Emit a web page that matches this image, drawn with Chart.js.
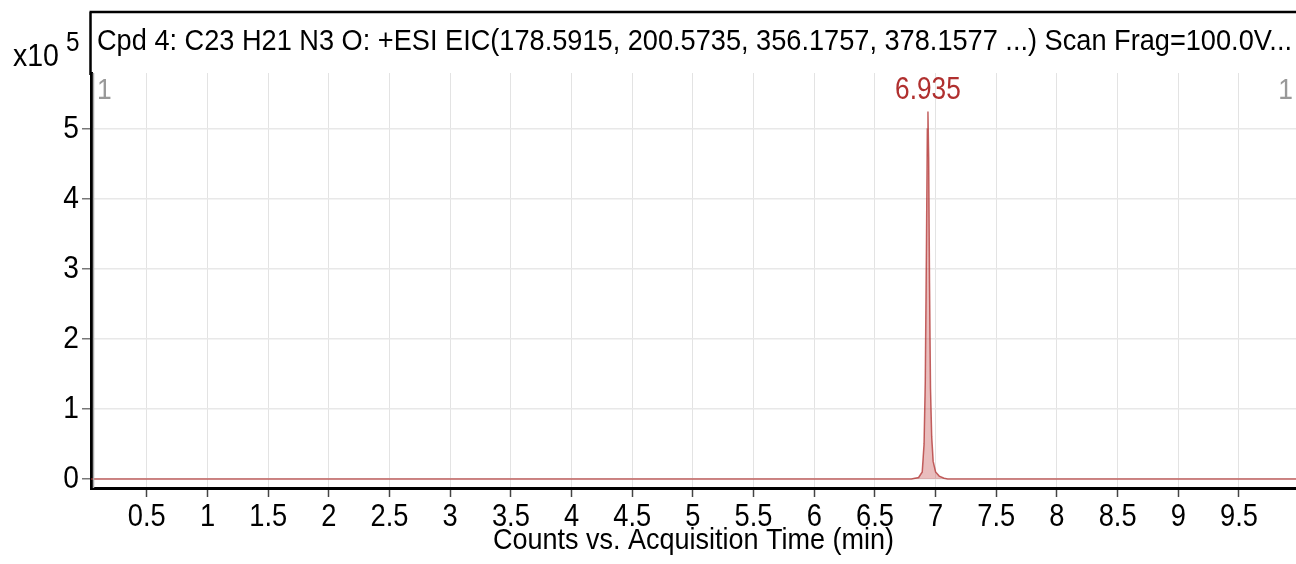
<!DOCTYPE html>
<html>
<head>
<meta charset="utf-8">
<script src="https://cdn.jsdelivr.net/npm/chart.js@4.4.1/dist/chart.umd.min.js"></script>
<style>
  html, body { margin: 0; padding: 0; background: #fff; }
  canvas { display: block; }
</style>
</head>
<body>
<canvas id="eic" width="1296" height="564"></canvas>
<script>
  const FONT = '"Liberation Sans", Arial, sans-serif';

  const titleText = 'Cpd 4: C23 H21 N3 O: +ESI EIC(178.5915, 200.5735, 356.1757, 378.1577 ...) Scan Frag=100.0V...';
  const xTitle = 'Counts vs. Acquisition Time (min)';
  const peakLabel = '6.935';

  // acquisition time (min) and counts
  const times = [0.04, 1.0, 2.0, 3.0, 4.0, 5.0, 6.0, 6.80, 6.86, 6.89, 6.905, 6.915, 6.925, 6.932,
                 6.937, 6.943, 6.950, 6.958, 6.968, 6.98, 7.00, 7.03, 7.07, 7.10, 8.0, 9.0, 9.97];
  const counts = [0, 0, 0, 0, 0, 0, 0, 0, 2000, 10000, 50000, 140000, 340000, 500000,
                  525000, 460000, 280000, 130000, 60000, 25000, 10000, 4000, 1000, 0, 0, 0, 0];

  const yTicks = [0, 1, 2, 3, 4, 5];   // x10^5
  const xStep = 0.5;

  const points = times.map((t, i) => ({ x: t, y: counts[i] }));

  // the instrument font is a narrow sans, so squeeze Liberation horizontally
  function narrow(ctx, text, x, y, size, align, color, k) {
    ctx.save();
    ctx.translate(x, y);
    ctx.scale(k || 0.88, 1);
    ctx.font = size + 'px ' + FONT;
    ctx.textAlign = align;
    ctx.textBaseline = 'middle';
    ctx.fillStyle = color || '#000';
    ctx.fillText(text, 0, 0);
    ctx.restore();
  }

  const frame = {
    id: 'frame',
    afterDraw(chart) {
      const { ctx, chartArea } = chart;
      const xs = chart.scales.x, ys = chart.scales.y;
      ctx.save();
      // outer frame above plot
      ctx.strokeStyle = '#000';
      ctx.lineWidth = 2.5;
      ctx.beginPath();
      ctx.moveTo(chartArea.left - 1.5, 12);
      ctx.lineTo(chart.width, 12);
      ctx.moveTo(chartArea.left - 0.5, 12);
      ctx.lineTo(chartArea.left - 0.5, chartArea.top + 2);
      ctx.stroke();

      ctx.fillStyle = '#000';
      ctx.textBaseline = 'middle';
      ctx.textAlign = 'left';
      ctx.font = '30px ' + FONT;
      ctx.fillText(titleText, chartArea.left + 6, 42, chart.width - chartArea.left - 10);

      // multiplier
      narrow(ctx, 'x10', 13, 57, 31, 'left', '#000', 0.92);
      narrow(ctx, '5', 66, 44, 27, 'left', '#000', 0.9);

      // tick labels from the scales
      xs.ticks.forEach(t => {
        narrow(ctx, String(Math.round(t.value * 10) / 10), xs.getPixelForValue(t.value), 517, 31, 'center');
      });
      ys.ticks.forEach(t => {
        narrow(ctx, String(Math.round(t.value / 100000)), 79, ys.getPixelForValue(t.value), 32, 'right');
      });
      narrow(ctx, xTitle, (chartArea.left + chartArea.right) / 2, 541, 30, 'center', '#000', 0.9);

      // gray markers
      narrow(ctx, '1', chartArea.left + 6, 91, 30, 'left', '#999');
      narrow(ctx, '1', chart.width - 3, 91, 30, 'right', '#999');
      ctx.strokeStyle = '#aaa';
      ctx.lineWidth = 1.5;
      ctx.beginPath();
      ctx.moveTo(chartArea.left + 2.5, chartArea.top);
      ctx.lineTo(chartArea.left + 2.5, chartArea.bottom);
      ctx.stroke();

      // peak label
      let iMax = 0;
      counts.forEach((c, i) => { if (c > counts[iMax]) iMax = i; });
      const px = xs.getPixelForValue(times[iMax]);
      const py = ys.getPixelForValue(counts[iMax]);
      narrow(ctx, peakLabel, px, py - 21, 32, 'center', '#b0302f', 0.82);
      ctx.restore();
    }
  };

  new Chart(document.getElementById('eic'), {
    type: 'line',
    data: {
      datasets: [{
        data: points,
        borderColor: 'rgba(176, 48, 47, 0.75)',
        borderWidth: 1.5,
        backgroundColor: 'rgba(200, 90, 90, 0.4)',
        fill: 'origin',
        pointRadius: 0,
        tension: 0
      }]
    },
    options: {
      responsive: false,
      animation: false,
      devicePixelRatio: 1,
      layout: { padding: { top: 73, left: 0, right: 0, bottom: 0 } },
      plugins: { legend: { display: false }, tooltip: { enabled: false } },
      scales: {
        x: {
          type: 'linear',
          min: 0.04,
          max: 9.97,
          afterFit(s) { s.height = 76; },
          border: { color: '#000', width: 3 },
          grid: { color: '#e3e3e3', lineWidth: 1, tickLength: 9, tickColor: '#444', tickWidth: 1.5 },
          ticks: { display: false, stepSize: xStep, includeBounds: false, autoSkip: false }
        },
        y: {
          type: 'linear',
          min: -13000,
          max: 580000,
          afterFit(s) { s.width = 91; },
          afterBuildTicks(s) { s.ticks = yTicks.map(v => ({ value: v * 100000 })); },
          border: { color: '#000', width: 3 },
          grid: { color: '#e8e8e8', lineWidth: 1.5, tickLength: 9, tickColor: '#777', tickWidth: 1.5 },
          ticks: { display: false }
        }
      }
    },
    plugins: [frame]
  });
</script>
</body>
</html>
